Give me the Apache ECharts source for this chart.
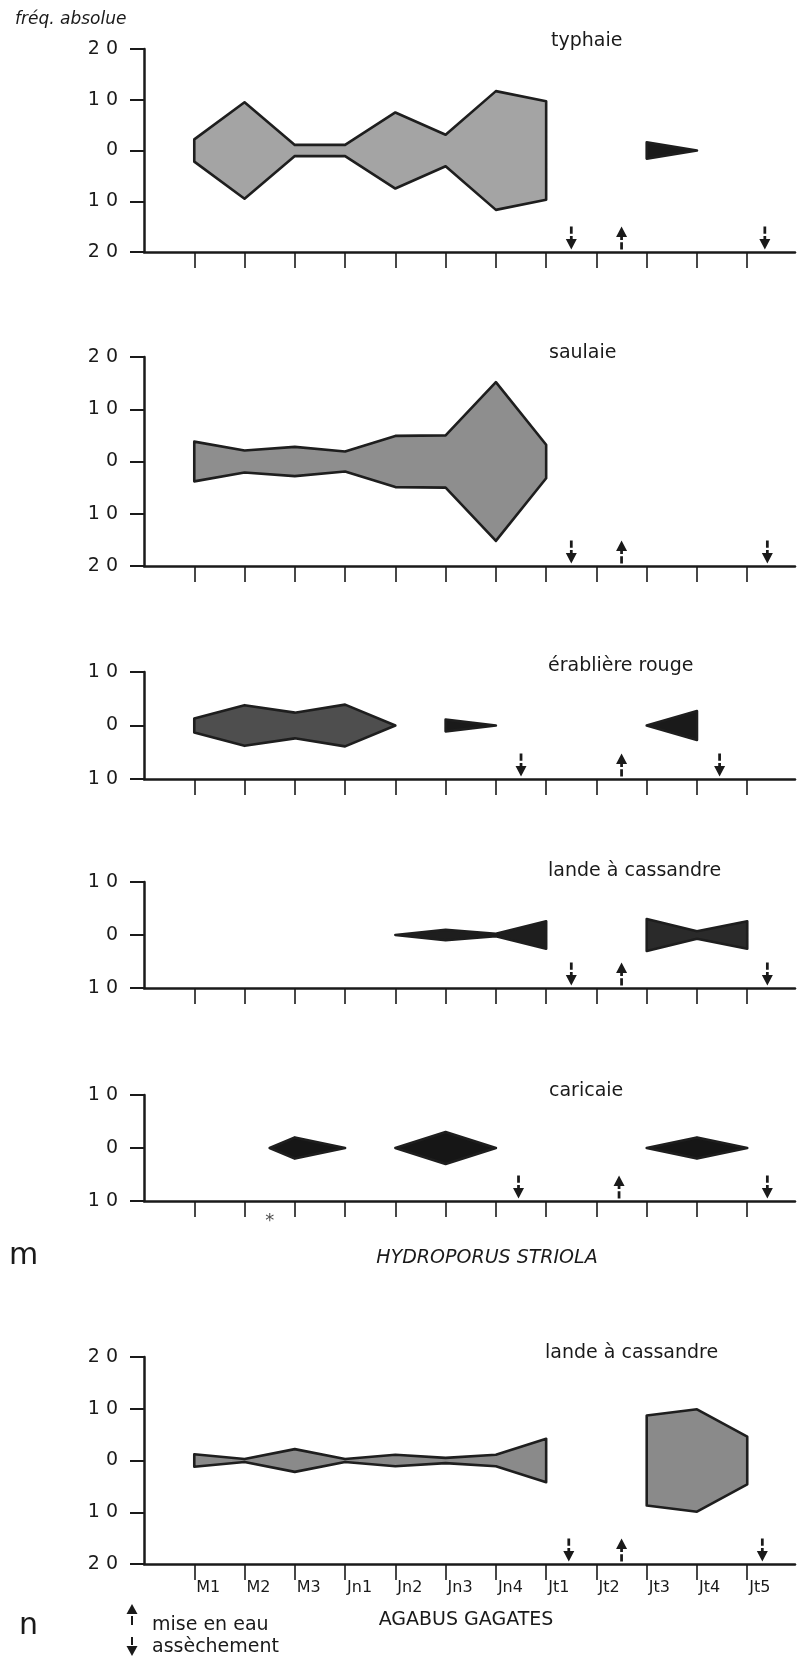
<!DOCTYPE html>
<html>
<head>
<meta charset="utf-8">
<title>Hydroporus striola / Agabus gagates</title>
<script src="https://cdn.jsdelivr.net/npm/echarts@6.0.0/dist/echarts.min.js"></script>
<style>
  html, body { margin: 0; padding: 0; background: #fff; }
  #chart { width: 801px; height: 1665px; }
</style>
</head>
<body>
<div id="chart"></div>
<script>
// dates d'échantillonnage, x = 1..12
const dates = ['M1', 'M2', 'M3', 'Jn1', 'Jn2', 'Jn3', 'Jn4', 'Jt1', 'Jt2', 'Jt3', 'Jt4', 'Jt5'];

// demi-largeur des cerfs-volants [x, fréq.], null = pas de capture (coupure)
const typhaie = [[1, 2.2], [2, 9.5], [3, 1.1], [4, 1.1], [5, 7.5], [6, 3.1], [7, 11.7], [8, 9.7], [9, null], [10, 1.6], [11, 0]];
const saulaie = [[1, 3.8], [2, 2.1], [3, 2.8], [4, 1.9], [5, 4.9], [6, 5], [7, 15.2], [8, 3.2]];
const erabliere = [[1, 1.3], [2, 3.8], [3, 2.4], [4, 3.9], [5, 0], [5.5, null], [6, 1.1], [7, 0], [8, null], [10, 0], [11, 2.7]];
const landeStriola = [[5, 0], [6, 1], [7, 0.25], [8, 2.6], [9, null], [10, 3], [11, 0.7], [12, 2.6]];
const caricaie = [[2.5, 0], [3, 2], [4, 0], [4.5, null], [5, 0], [6, 3], [7, 0], [8, null], [10, 0], [11, 2], [12, 0]];
const landeGagates = [[1, 1.2], [2, 0.3], [3, 2.2], [4, 0.3], [5, 1.1], [6, 0.5], [7, 1.1], [8, 4.2], [9, null], [10, 8.7], [11, 9.9], [12, 4.6]];

// flèches: assèchement (vers le bas) et mise en eau (vers le haut), par panneau
const dryArrows = [[8.5, 12.35], [8.5, 12.4], [7.5, 11.45], [8.5, 12.4], [7.45, 12.4], [8.45, 12.3]];
const floodArrows = [[9.5], [9.5], [9.5], [9.5], [9.45], [9.5]];
// date supplémentaire marquée d'un astérisque (caricaie)
const extraDates = [2.5];

const FONT = 'DejaVu Sans';
const INK = '#1a1a1a';

// fills: one colour per segment of the panel
const panels = [
  { name: 'typhaie', data: typhaie, lim: 20, top: 49, height: 203, fills: ['#a4a4a4', '#1a1a1a'], tLeft: 551, tY: 43 },
  { name: 'saulaie', data: saulaie, lim: 20, top: 357, height: 209, fills: ['#8e8e8e'], tLeft: 549, tY: 355 },
  { name: 'érablière rouge', data: erabliere, lim: 10, top: 672, height: 107, fills: ['#4e4e4e', '#1a1a1a', '#1a1a1a'], tLeft: 548, tY: 668 },
  { name: 'lande à cassandre', data: landeStriola, lim: 10, top: 882, height: 106, fills: ['#1e1e1e', '#2a2a2a'], tLeft: 548, tY: 873 },
  { name: 'caricaie', data: caricaie, lim: 10, top: 1095, height: 106, fills: ['#161616', '#161616', '#161616'], tLeft: 549, tY: 1093 },
  { name: 'lande à cassandre', data: landeGagates, lim: 20, top: 1357, height: 207, fills: ['#8a8a8a', '#8a8a8a'], tLeft: 545, tY: 1355 }
];

const ticks = dates.map((d, k) => k + 1);
const downPath = 'path://M4.5,0H7.5V7H4.5Z M4.5,9H7.5V12H12L6,22L0,12H4.5Z';
const upPath = 'path://M6,0L12,10H7.5V13H4.5V10H0Z M4.5,15H7.5V22H4.5Z';

function splitSegments(pts) {
  const out = [];
  let cur = [];
  pts.forEach(q => {
    if (q[1] === null) {
      if (cur.length) out.push(cur);
      cur = [];
    } else {
      cur.push(q);
    }
  });
  if (cur.length) out.push(cur);
  return out;
}

const grid = [], xAxis = [], yAxis = [], series = [], title = [];

panels.forEach((p, i) => {
  const last = i === panels.length - 1;
  grid.push({ left: 144, width: 651, top: p.top, height: p.height });

  xAxis.push({
    type: 'value', gridIndex: i, min: 0, max: 12.95,
    axisLine: { onZero: false, lineStyle: { color: INK, width: 2.5 } },
    axisTick: { customValues: ticks, length: 16, lineStyle: { color: INK, width: 1.6 } },
    axisLabel: last ? {
      customValues: ticks,
      formatter: v => dates[v - 1],
      align: 'left', margin: 16, padding: [0, 0, 0, 2],
      fontSize: 16, fontFamily: FONT, color: INK
    } : { show: false },
    splitLine: { show: false }
  });

  yAxis.push({
    type: 'value', gridIndex: i, min: -p.lim, max: p.lim, interval: 10,
    axisLine: { show: true, lineStyle: { color: INK, width: 2.5 } },
    axisTick: { show: true, length: 14, lineStyle: { color: INK, width: 2 } },
    axisLabel: {
      formatter: v => String(Math.abs(v)).split('').join(' '),
      margin: 26, fontSize: 19, fontFamily: FONT, color: INK
    },
    splitLine: { show: false }
  });

  title.push({
    text: p.name, left: p.tLeft, top: p.tY - 11, padding: 0,
    textStyle: { fontSize: 19, fontWeight: 'normal', fontFamily: FONT, color: INK }
  });

  const segs = splitSegments(p.data);
  series.push({
    type: 'custom', xAxisIndex: i, yAxisIndex: i, silent: true,
    data: segs.map((s, k) => [s[0][0], 0, k]),
    encode: { x: 0, y: 1 },
    renderItem: (params, api) => {
      const k = api.value(2);
      const s = segs[k];
      const upper = s.map(q => api.coord([q[0], q[1]]));
      const lower = s.slice().reverse().map(q => api.coord([q[0], -q[1]]));
      return {
        type: 'polygon',
        shape: { points: upper.concat(lower) },
        style: { fill: p.fills[k] || p.fills[0], stroke: '#1e1e1e', lineWidth: 2.6, lineJoin: 'round' }
      };
    }
  });

  series.push({
    type: 'scatter', xAxisIndex: i, yAxisIndex: i, clip: false, silent: true,
    symbol: downPath, symbolSize: [11, 23], symbolOffset: [0, -14],
    itemStyle: { color: INK, opacity: 1 },
    data: dryArrows[i].map(x => [x, -p.lim])
  });
  series.push({
    type: 'scatter', xAxisIndex: i, yAxisIndex: i, clip: false, silent: true,
    symbol: upPath, symbolSize: [11, 23], symbolOffset: [0, -14],
    itemStyle: { color: INK, opacity: 1 },
    data: floodArrows[i].map(x => [x, -p.lim])
  });
});

// astérisque sous l'axe de la caricaie
series.push({
  type: 'scatter', xAxisIndex: 4, yAxisIndex: 4, clip: false, silent: true,
  symbolSize: 2, itemStyle: { color: 'rgba(0,0,0,0)' },
  label: { show: true, formatter: '*', position: 'bottom', distance: 10, fontSize: 18, fontFamily: FONT, color: INK },
  data: extraDates.map(x => [x, -10])
});

function txt(text, x, y, font, align) {
  return {
    type: 'text', x: x, y: y, silent: true,
    style: { text: text, font: font, fill: INK, align: align || 'left', verticalAlign: 'middle' }
  };
}

const graphic = [
  txt('fréq. absolue', 15, 20, 'italic 17px "' + FONT + '"'),
  txt('m', 9, 1256, '30px "' + FONT + '"'),
  txt('HYDROPORUS STRIOLA', 487, 1258, 'italic 19px "' + FONT + '"', 'center'),
  txt('n', 19, 1626, '30px "' + FONT + '"'),
  txt('AGABUS GAGATES', 466, 1620, '19px "' + FONT + '"', 'center'),
  txt('mise en eau', 152, 1625, '19px "' + FONT + '"'),
  txt('assèchement', 152, 1647, '19px "' + FONT + '"'),
  { type: 'polygon', silent: true, shape: { points: [[126.5, 1614], [132, 1604], [137.5, 1614]] }, style: { fill: INK } },
  { type: 'rect', silent: true, shape: { x: 131, y: 1616, width: 2, height: 9 }, style: { fill: INK } },
  { type: 'rect', silent: true, shape: { x: 131, y: 1637, width: 2, height: 8 }, style: { fill: INK } },
  { type: 'polygon', silent: true, shape: { points: [[126.5, 1646], [137.5, 1646], [132, 1656]] }, style: { fill: INK } }
];

const chart = echarts.init(document.getElementById('chart'), null, { renderer: 'canvas' });
chart.setOption({
  backgroundColor: '#fff',
  animation: false,
  title: title,
  grid: grid,
  xAxis: xAxis,
  yAxis: yAxis,
  series: series,
  graphic: graphic
});
</script>
</body>
</html>
